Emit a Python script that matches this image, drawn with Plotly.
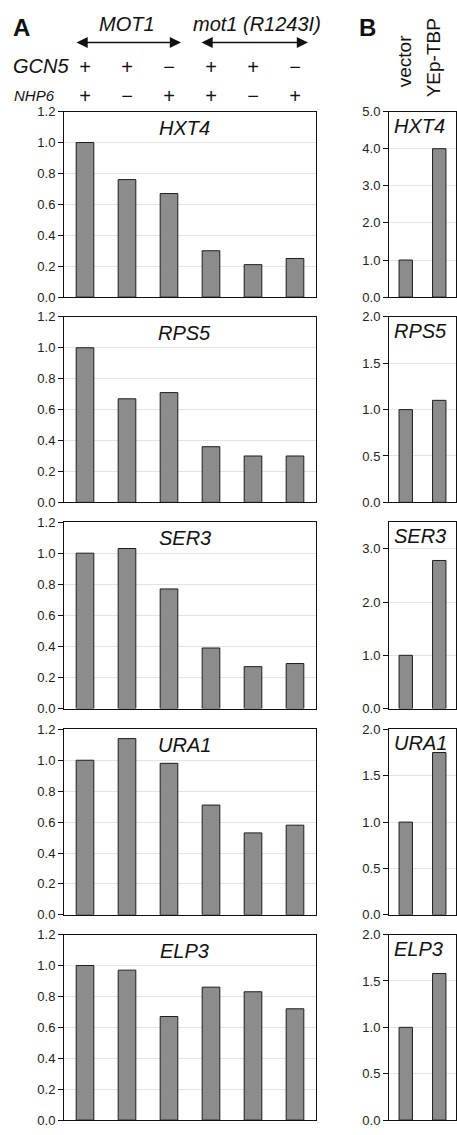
import plotly.graph_objects as go

# ---------------- data ----------------
genes = ["HXT4", "RPS5", "SER3", "URA1", "ELP3"]
strains = ["MOT1 GCN5 NHP6", "MOT1 GCN5 nhp6", "MOT1 gcn5 NHP6",
           "mot1 GCN5 NHP6", "mot1 GCN5 nhp6", "mot1 gcn5 NHP6"]
gcn5_signs = ["+", "+", "\u2212", "+", "+", "\u2212"]
nhp6_signs = ["+", "\u2212", "+", "+", "\u2212", "+"]

hxt4_a = [1.00, 0.76, 0.67, 0.30, 0.21, 0.25]
rps5_a = [1.00, 0.67, 0.71, 0.36, 0.30, 0.30]
ser3_a = [1.00, 1.03, 0.77, 0.39, 0.27, 0.29]
ura1_a = [1.00, 1.14, 0.98, 0.71, 0.53, 0.58]
elp3_a = [1.00, 0.97, 0.67, 0.86, 0.83, 0.72]

plasmids = ["vector", "YEp-TBP"]
hxt4_b = [1.00, 4.00]
rps5_b = [1.00, 1.10]
ser3_b = [1.00, 2.78]
ura1_b = [1.00, 1.75]
elp3_b = [1.00, 1.58]

a_values = [hxt4_a, rps5_a, ser3_a, ura1_a, elp3_a]
b_values = [hxt4_b, rps5_b, ser3_b, ura1_b, elp3_b]
b_ranges = [5.0, 2.0, 3.5, 2.0, 2.0]
b_ticks = [[0, 1, 2, 3, 4, 5], [0, 0.5, 1, 1.5, 2], [0, 1, 2, 3],
           [0, 0.5, 1, 1.5, 2], [0, 0.5, 1, 1.5, 2]]
a_ticks = [0, 0.2, 0.4, 0.6, 0.8, 1.0, 1.2]

# ---------------- geometry (pixels) ----------------
W, H = 457, 1135
A_X = (64, 316)
B_X = (389, 456)
tops = [106, 314, 522, 732, 940]
bottoms = [294, 502, 711, 920, 1128]

FONT = "Liberation Sans, Arial, Helvetica, sans-serif"
BAR_FILL = "#8c8c8c"
BAR_LINE = "#1e1e1e"
GRID = "#e4e4e4"

fig = go.Figure()
layout = dict(
    width=W, height=H,
    margin=dict(l=0, r=0, t=0, b=0),
    paper_bgcolor="white", plot_bgcolor="white",
    showlegend=False,
    font=dict(family=FONT, size=13, color="#222"),
)

def px_x(a, b):
    return [a / W, b / W]

def px_y(top, bot):
    return [1 - bot / H, 1 - top / H]

annotations = []

for i, g in enumerate(genes):
    na = 2 * i + 1
    nb = 2 * i + 2
    sa = "" if na == 1 else str(na)
    sb = str(nb)

    fig.add_trace(go.Bar(
        x=strains, y=a_values[i], xaxis="x" + sa, yaxis="y" + sa,
        marker=dict(color=BAR_FILL, line=dict(color=BAR_LINE, width=1)),
        width=0.42, hoverinfo="skip"))
    fig.add_trace(go.Bar(
        x=plasmids, y=b_values[i], xaxis="x" + sb, yaxis="y" + sb,
        marker=dict(color=BAR_FILL, line=dict(color=BAR_LINE, width=1)),
        width=0.40, hoverinfo="skip"))

    common_x = dict(showticklabels=False, ticks="", showgrid=False,
                    showline=True, linecolor="#111", linewidth=1, mirror=True,
                    type="category", fixedrange=True)
    common_y = dict(showline=True, linecolor="#111", linewidth=1, mirror=True,
                    ticks="outside", ticklen=5, tickcolor="#111", tickwidth=1,
                    showgrid=True, gridcolor=GRID, gridwidth=1,
                    tickformat=".1f", zeroline=False,
                    tickfont=dict(family=FONT, size=13, color="#222"),
                    fixedrange=True)

    layout["xaxis" + sa] = dict(common_x, domain=px_x(*A_X), anchor="y" + sa,
                                range=[-0.5, 5.5])
    layout["yaxis" + sa] = dict(common_y, domain=px_y(tops[i], bottoms[i]),
                                anchor="x" + sa, range=[0, 1.2],
                                tickvals=a_ticks)
    layout["xaxis" + sb] = dict(common_x, domain=px_x(*B_X), anchor="y" + sb,
                                range=[-0.5, 1.5])
    layout["yaxis" + sb] = dict(common_y, domain=px_y(tops[i], bottoms[i]),
                                anchor="x" + sb, range=[0, b_ranges[i]],
                                tickvals=b_ticks[i])

    # gene labels
    annotations.append(dict(
        text=g, xref="x" + sa + " domain", yref="y" + sa + " domain",
        x=0.48, y=1, xanchor="center", yanchor="top", yshift=-3,
        showarrow=False,
        font=dict(family=FONT, size=20, style="italic", color="#111")))
    annotations.append(dict(
        text=g, xref="x" + sb + " domain", yref="y" + sb + " domain",
        x=0.05, y=1, xanchor="left", yanchor="top", yshift=-1,
        showarrow=False,
        font=dict(family=FONT, size=20, style="italic", color="#111")))

# header: panel letters
annotations.append(dict(text="<b>A</b>", xref="paper", yref="paper",
                        x=11 / W, y=1 - 21 / H, xanchor="left", yanchor="middle",
                        showarrow=False, font=dict(family=FONT, size=24, color="#111")))
annotations.append(dict(text="<b>B</b>", xref="paper", yref="paper",
                        x=357 / W, y=1 - 21 / H, xanchor="left", yanchor="middle",
                        showarrow=False, font=dict(family=FONT, size=24, color="#111")))

# strain group labels
annotations.append(dict(text="MOT1", xref="x", yref="paper", x=strains[1],
                        y=1 - 17 / H, xanchor="center", yanchor="middle",
                        showarrow=False,
                        font=dict(family=FONT, size=20, style="italic", color="#111")))
annotations.append(dict(text="mot1 (R1243I)", xref="x", yref="paper", x=strains[4],
                        y=1 - 17 / H, xanchor="center", yanchor="middle", xshift=4,
                        showarrow=False,
                        font=dict(family=FONT, size=20, style="italic", color="#111")))

# double-headed arrows
for x0, x1 in [(75, 181), (200, 308)]:
    annotations.append(dict(text="", xref="paper", yref="paper",
                            x=x1 / W, y=1 - 36 / H, ax=-(x1 - x0), ay=0,
                            axref="pixel", ayref="pixel",
                            showarrow=True, arrowhead=2, arrowside="end+start",
                            arrowsize=1.4, arrowwidth=1.6, arrowcolor="#111",
                            standoff=0, startstandoff=0))

# genotype rows
annotations.append(dict(text="GCN5", xref="paper", yref="paper", x=11 / W,
                        y=1 - 60 / H, xanchor="left", yanchor="middle",
                        showarrow=False,
                        font=dict(family=FONT, size=20, style="italic", color="#111")))
annotations.append(dict(text="NHP6", xref="paper", yref="paper", x=12 / W,
                        y=1 - 90 / H, xanchor="left", yanchor="middle",
                        showarrow=False,
                        font=dict(family=FONT, size=15, style="italic", color="#111")))
for s, g5, n6 in zip(strains, gcn5_signs, nhp6_signs):
    annotations.append(dict(text=g5, xref="x", yref="paper", x=s, y=1 - 61 / H,
                            xanchor="center", yanchor="middle", showarrow=False,
                            font=dict(family=FONT, size=20, style="italic", color="#111")))
    annotations.append(dict(text=n6, xref="x", yref="paper", x=s, y=1 - 90 / H,
                            xanchor="center", yanchor="middle", showarrow=False,
                            font=dict(family=FONT, size=20, style="italic", color="#111")))

# panel B column headers (rotated)
for lab, xc, yc in [(plasmids[0], 404, 55), (plasmids[1], 433, 52)]:
    annotations.append(dict(text=lab, xref="paper", yref="paper", x=xc / W,
                            y=1 - yc / H, xanchor="center", yanchor="middle",
                            textangle=-90, showarrow=False,
                            font=dict(family=FONT, size=19, color="#111")))

layout["annotations"] = annotations
fig.update_layout(**layout)
fig.write_html(
    "out.html",
    config={"displayModeBar": False, "staticPlot": True},
    post_script="document.body.style.margin='0';document.body.style.overflow='hidden';",
)
